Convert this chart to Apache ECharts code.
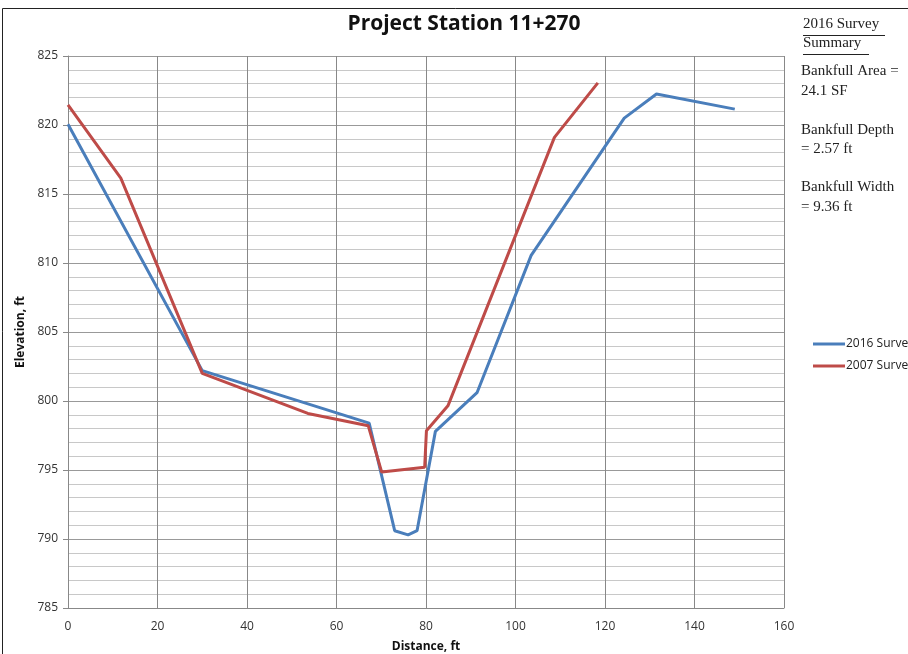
<!DOCTYPE html>
<html>
<head>
<meta charset="utf-8">
<script src="https://cdn.jsdelivr.net/npm/echarts@6/dist/echarts.min.js"></script>
<style>html,body{margin:0;padding:0;background:#fff;}#c{width:908px;height:654px;}</style>
</head>
<body>
<div id="c"></div>
<script>
const seriesNames = ['2016 Survey', '2007 Survey'];
const survey2016 = [
  [0, 820.05], [30, 802.2], [67.3, 798.4], [73, 790.6], [76, 790.3], [78, 790.6],
  [82.1, 797.8], [91.4, 800.6], [103.5, 810.55], [124.3, 820.5], [131.5, 822.25], [149, 821.15]
];
const survey2007 = [
  [0, 821.45], [11.8, 816.15], [30, 802.0], [53.6, 799.1], [67.1, 798.2], [70.1, 794.85],
  [79.7, 795.2], [80.1, 797.85], [84.9, 799.65], [108.7, 819.1], [118.4, 823.05]
];
const titleText = 'Project Station 11+270';
const summaryLines = ['Bankfull Area =', '24.1 SF', 'Bankfull Depth', '= 2.57 ft', 'Bankfull Width', '= 9.36 ft'];
const summaryHeader = ['2016 Survey', 'Summary'];
const xName = 'Distance, ft';
const yName = 'Elevation, ft';

const chart = echarts.init(document.getElementById('c'));
const serif = 'Liberation Serif';
const sans = 'Open Sans';
const summaryY = [74, 94, 133, 152, 190, 210];
const graphics = [
  { type: 'rect', shape: { x: 2.5, y: 8.5, width: 920, height: 660 }, style: { fill: 'none', stroke: '#222', lineWidth: 1 }, silent: true },
  { type: 'text', left: 803, top: 17, style: { text: summaryHeader[0], font: '15px "' + serif + '"', fill: '#222' } },
  { type: 'line', shape: { x1: 803, y1: 35.5, x2: 885, y2: 35.5 }, style: { stroke: '#222', lineWidth: 1 } },
  { type: 'text', left: 803, top: 36, style: { text: summaryHeader[1], font: '15px "' + serif + '"', fill: '#222' } },
  { type: 'line', shape: { x1: 803, y1: 54.5, x2: 869, y2: 54.5 }, style: { stroke: '#222', lineWidth: 1 } }
];
summaryLines.forEach((t, i) => {
  graphics.push({ type: 'text', left: 801, top: summaryY[i] - 10, style: { text: t, font: '15px "' + serif + '"', fill: '#222' } });
});

chart.setOption({
  animation: false,
  backgroundColor: '#fff',
  title: {
    text: titleText, left: 459, top: 9, textAlign: 'center',
    textStyle: { fontFamily: sans, fontWeight: 'bold', fontSize: 21, color: '#111' }
  },
  graphic: graphics,
  legend: {
    orient: 'vertical', left: 808, top: 333, itemGap: 10,
    itemWidth: 32, itemHeight: 3, icon: 'rect',
    textStyle: { fontFamily: sans, fontSize: 12, color: '#222', padding: [0, 0, 0, -4] },
    data: seriesNames
  },
  grid: { left: 68, right: 124, top: 56, bottom: 46, containLabel: false, outerBoundsMode: 'none' },
  xAxis: {
    type: 'value', min: 0, max: 160, interval: 20,
    name: xName, nameLocation: 'middle', nameGap: 33,
    nameTextStyle: { fontFamily: sans, fontWeight: 'bold', fontSize: 12, color: '#111' },
    axisLine: { show: true, lineStyle: { color: '#888', width: 1 } },
    axisTick: { show: false },
    axisLabel: { fontFamily: sans, fontSize: 12, color: '#333', margin: 13 },
    splitLine: { show: true, lineStyle: { color: '#888', width: 1 } }
  },
  yAxis: {
    type: 'value', min: 785, max: 825, interval: 5,
    name: yName, nameLocation: 'middle', nameGap: 38, nameRotate: 90,
    nameTextStyle: { fontFamily: sans, fontWeight: 'bold', fontSize: 12, color: '#111' },
    axisLine: { show: true, lineStyle: { color: '#888', width: 1 } },
    axisTick: { show: true, length: 5, lineStyle: { color: '#888' } },
    axisLabel: { fontFamily: sans, fontSize: 12, color: '#333', margin: 10 },
    splitLine: { show: true, lineStyle: { color: '#999', width: 1 } },
    minorTick: { show: false, splitNumber: 5 },
    minorSplitLine: { show: true, lineStyle: { color: '#c8c8c8', width: 1 } }
  },
  series: [
    { name: seriesNames[0], type: 'line', data: survey2016, showSymbol: false, symbol: 'none',
      lineStyle: { color: '#4a7ebb', width: 3 }, itemStyle: { color: '#4a7ebb' }, z: 3 },
    { name: seriesNames[1], type: 'line', data: survey2007, showSymbol: false, symbol: 'none',
      lineStyle: { color: '#be4b48', width: 3 }, itemStyle: { color: '#be4b48' }, z: 4 }
  ]
});
</script>
</body>
</html>
